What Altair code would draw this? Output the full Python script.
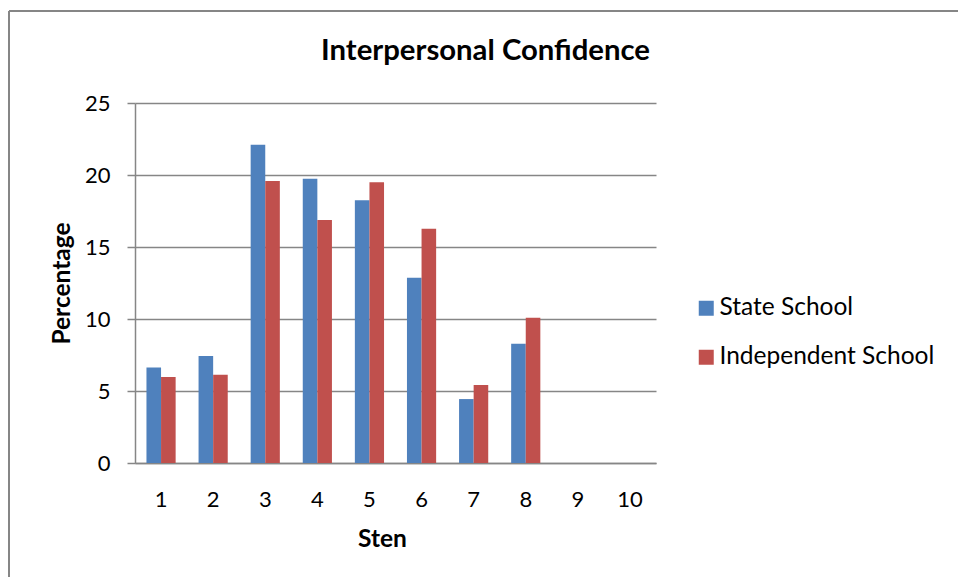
import altair as alt
import pandas as pd

# Sten scores and the percentage of pupils at each score
sten = [1, 2, 3, 4, 5, 6, 7, 8, 9, 10]
state_school = [6.64, 7.43, 22.1, 19.74, 18.24, 12.87, 4.44, 8.28, 0, 0]
independent_school = [5.97, 6.13, 19.58, 16.87, 19.49, 16.27, 5.42, 10.09, 0, 0]
series = ["State School", "Independent School"]
colors = ["#4F81BD", "#C0504D"]
y_ticks = [0, 5, 10, 15, 20, 25]

df = pd.DataFrame(
    {
        "Sten": sten * 2,
        "Percentage": state_school + independent_school,
        "School": [series[0]] * len(sten) + [series[1]] * len(sten),
    }
)

FONT = "Lato"
GRID = "#868686"
W, H = 521, 360
LEFT, TOP = 135, 103

bars = (
    alt.Chart(df)
    .mark_bar()
    .encode(
        x=alt.X(
            "Sten:O",
            sort=sten,
            title="Sten",
            scale=alt.Scale(paddingInner=0.44, paddingOuter=0.22),
            axis=alt.Axis(
                labelAngle=0,
                tickSize=0,
                grid=False,
                labelPadding=43,
                labelBaseline="alphabetic",
                labelFont=FONT,
                labelFontSize=22,
                labelColor="#000000",
                domainColor=GRID,
                domainWidth=1.5,
                titleFont=FONT,
                titleFontSize=24.5,
                titleFontWeight="bold",
                titleColor="#000000",
                titleX=247,
                titleY=83,
                titleBaseline="alphabetic",
                titleAlign="center",
            ),
        ),
        xOffset=alt.XOffset("School:N", sort=series),
        y=alt.Y(
            "Percentage:Q",
            title="Percentage",
            scale=alt.Scale(domain=[0, 25], nice=False),
            axis=alt.Axis(
                values=y_ticks,
                tickSize=8,
                tickColor=GRID,
                tickWidth=1.5,
                labelPadding=17,
                labelFont=FONT,
                labelFontSize=22,
                labelColor="#000000",
                domainColor=GRID,
                domainWidth=1.5,
                gridColor=GRID,
                gridWidth=1.5,
                titleFont=FONT,
                titleFontSize=24.5,
                titleFontWeight="bold",
                titleColor="#000000",
                titleX=-66,
                titleY=180,
                titleAngle=-90,
                titleBaseline="alphabetic",
                titleAlign="center",
            ),
        ),
        color=alt.Color(
            "School:N",
            sort=series,
            scale=alt.Scale(domain=series, range=colors),
            legend=alt.Legend(
                title=None,
                orient="none",
                legendX=559,
                legendY=193,
                symbolType="square",
                symbolSize=225,
                symbolStrokeWidth=0,
                symbolOpacity=1,
                labelFont=FONT,
                labelFontSize=24.5,
                labelColor="#000000",
                labelOffset=1,
                labelLimit=0,
                rowPadding=24,
                padding=0,
            ),
        ),
    )
)

# Outer frame of the chart area
frame_left = alt.Chart(df).mark_rule(color=GRID, strokeWidth=1.5).encode(
    x=alt.value(9 - LEFT), y=alt.value(11 - TOP), y2=alt.value(577 - TOP)
)
frame_top = alt.Chart(df).mark_rule(color=GRID, strokeWidth=1.5).encode(
    x=alt.value(9 - LEFT), x2=alt.value(958 - LEFT), y=alt.value(11 - TOP)
)

chart = (
    alt.layer(bars, frame_left, frame_top)
    .properties(
        width=W,
        height=H,
        view=alt.ViewBackground(strokeOpacity=0, strokeWidth=0),
        title=alt.TitleParams(
            "Interpersonal Confidence",
            font=FONT,
            fontSize=29.3,
            fontWeight="bold",
            color="#000000",
            anchor="middle",
            frame="group",
            baseline="alphabetic",
            dx=90,
            dy=79,
            offset=0,
        ),
        autosize=alt.AutoSizeParams(type="none"),
        padding={"left": LEFT, "top": TOP, "right": 958 - LEFT - W, "bottom": 577 - TOP - H},
    )
    .configure_view(stroke="transparent", strokeWidth=0, strokeOpacity=0)
    .configure_axis(grid=False)
    .configure_axisY(grid=True)
    .configure(background="white")
)

chart.save("out.html", embed_options={"renderer": "svg", "actions": False})
